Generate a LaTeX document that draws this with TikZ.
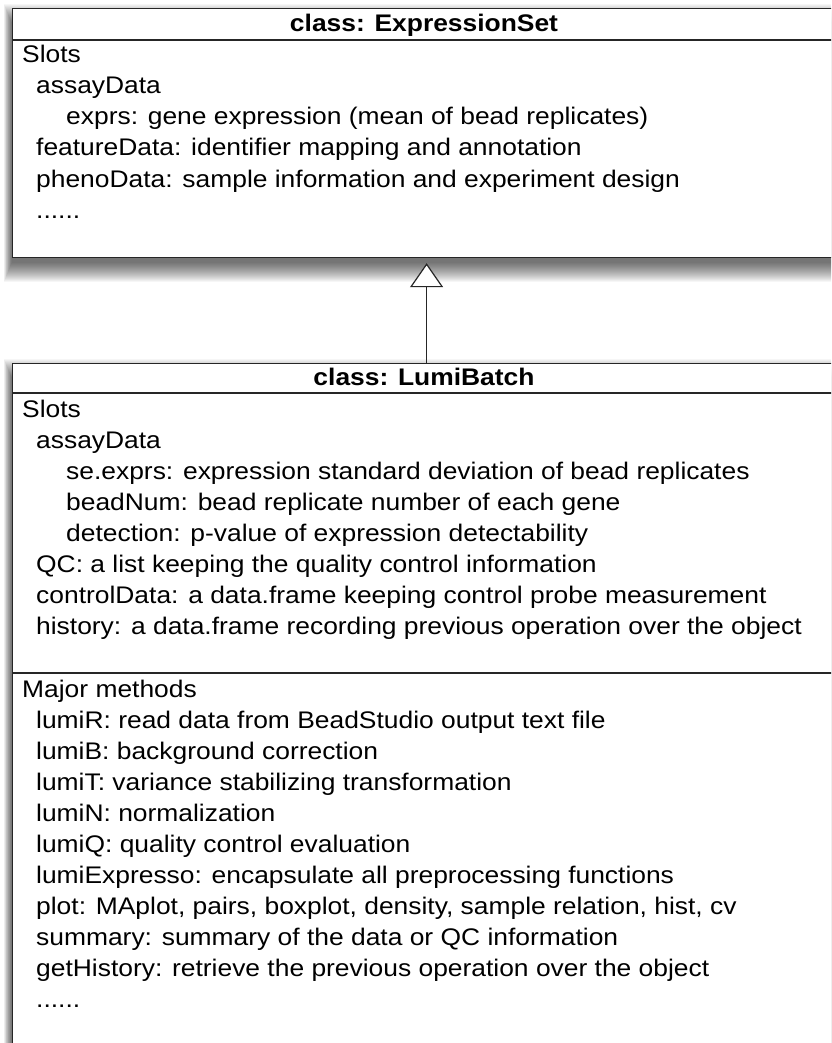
\documentclass[tikz,border=0pt]{standalone}
\usepackage{fontspec}
\setmainfont{Liberation Sans}[FakeStretch=1.1]
\usetikzlibrary{arrows.meta}
\tikzset{
  umlbox/.style={draw=black!85, line width=1.2pt, fill=white, inner sep=0pt, anchor=north west, minimum width=824pt},
  sepline/.style={draw=black!85, line width=1.2pt},
  txt/.style={anchor=base west, inner sep=0pt, font=\fontsize{24}{31}\selectfont},
  ttl/.style={anchor=base, inner sep=0pt, font=\fontsize{24}{31}\selectfont\bfseries},
  inherit/.style={draw=black!85, line width=1.2pt, -{Triangle[open, width=33pt, length=24pt, fill=white]}}
}
\newcommand\softshadow[4]{%
  \foreach \i in {0,...,19}{%
    \fill[black, opacity=0.035] (#1-8+0.4*\i, #2-4+\i) rectangle (#3+8-0.4*\i, #4+25-\i);
  }%
}
\begin{document}
\begin{tikzpicture}[x=1pt, y=-1pt]
\fill[white] (0,0) rectangle (831,1043);
\clip (0,0) rectangle (831,1043);
\useasboundingbox (0,0) rectangle (831,1043);

% shadows
\softshadow{12}{8}{836}{257}
\softshadow{12}{363}{836}{1070}

% ExpressionSet box
\node[umlbox, minimum height=249pt] (es) at (12,8) {};
\draw[sepline] (12,40) -- (836,40);
\node[ttl] (esT) at (424,32) {class: ExpressionSet};
\node[txt] (es1) at (22,63) {Slots};
\node[txt] (es2) at (36,94) {assayData};
\node[txt] (es3) at (66,125) {exprs: gene expression (mean of bead replicates)};
\node[txt] (es4) at (36,156) {featureData: identifier mapping and annotation};
\node[txt] (es5) at (36,187) {phenoData: sample information and experiment design};
\node[txt] (es6) at (36,218) {......};

% LumiBatch box
\node[umlbox, minimum height=707pt] (lb) at (12,363) {};
\draw[sepline] (12,393) -- (836,393);
\draw[sepline] (12,673) -- (836,673);
\node[ttl] (lbT) at (424,385) {class: LumiBatch};
\node[txt] (lb1) at (22,417) {Slots};
\node[txt] (lb2) at (36,448) {assayData};
\node[txt] (lb3) at (66,479) {se.exprs: expression standard deviation of bead replicates};
\node[txt] (lb4) at (66,510) {beadNum: bead replicate number of each gene};
\node[txt] (lb5) at (66,541) {detection: p-value of expression detectability};
\node[txt] (lb6) at (36,572) {QC: a list keeping the quality control information};
\node[txt] (lb7) at (36,603) {controlData: a data.frame keeping control probe measurement};
\node[txt] (lb8) at (36,634) {history: a data.frame recording previous operation over the object};

\node[txt] (m0) at (22,697) {Major methods};
\node[txt] (m1) at (36,728) {lumiR: read data from BeadStudio output text file};
\node[txt] (m2) at (36,759) {lumiB: background correction};
\node[txt] (m3) at (36,790) {lumiT: variance stabilizing transformation};
\node[txt] (m4) at (36,821) {lumiN: normalization};
\node[txt] (m5) at (36,852) {lumiQ: quality control evaluation};
\node[txt] (m6) at (36,883) {lumiExpresso: encapsulate all preprocessing functions};
\node[txt] (m7) at (36,914) {plot: MAplot, pairs, boxplot, density, sample relation, hist, cv};
\node[txt] (m8) at (36,945) {summary: summary of the data or QC information};
\node[txt] (m9) at (36,976) {getHistory: retrieve the previous operation over the object};
\node[txt] (m10) at (36,1007) {......};

% inheritance
\draw[inherit] ([xshift=2pt]lb.north) -- ([xshift=2pt, yshift=-5pt]es.south);
\end{tikzpicture}
\end{document}
